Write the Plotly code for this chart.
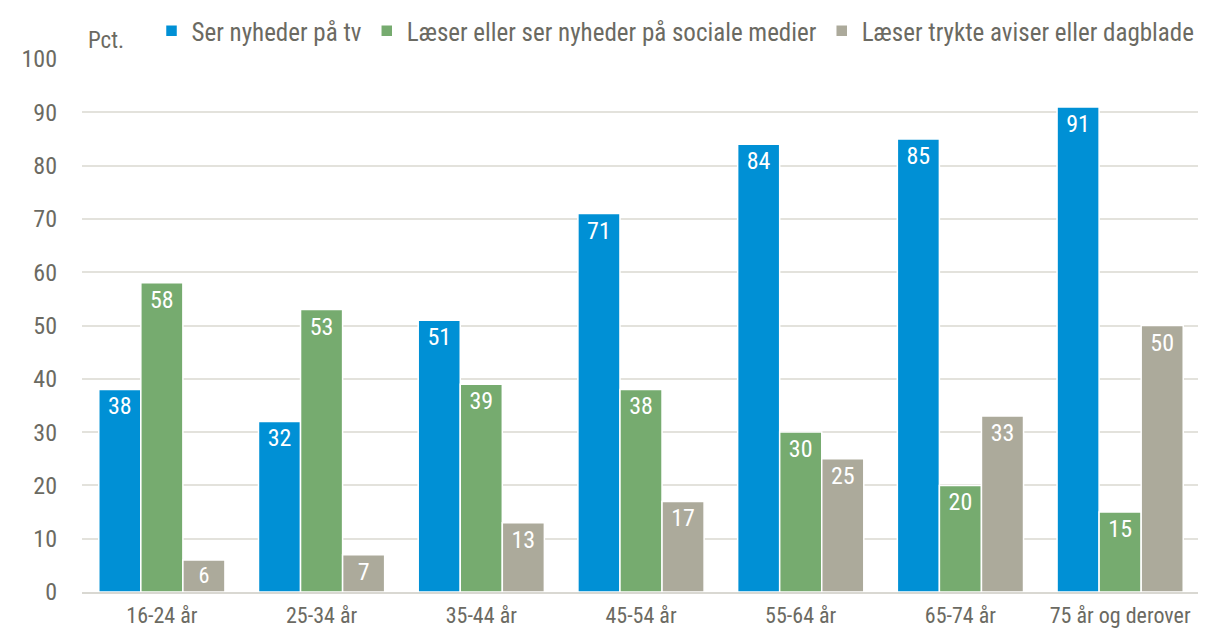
import plotly.graph_objects as go

categories = ["16-24 år", "25-34 år", "35-44 år", "45-54 år", "55-64 år", "65-74 år", "75 år og derover"]
tv = [38, 32, 51, 71, 84, 85, 91]
sociale = [58, 53, 39, 38, 30, 20, 15]
aviser = [6, 7, 13, 17, 25, 33, 50]
series_names = ["Ser nyheder på tv", "Læser eller ser nyheder på sociale medier", "Læser trykte aviser eller dagblade"]
colors = ["#0090D5", "#76AB6F", "#ACAA9B"]
y_ticks = [0, 10, 20, 30, 40, 50, 60, 70, 80, 90, 100]

FONT = "Roboto Condensed, Archivo Narrow, Arial Narrow, sans-serif"
TXT = "#6B6A62"

fig = go.Figure()
for name, vals, col in zip(series_names, [tv, sociale, aviser], colors):
    fig.add_trace(go.Bar(
        x=categories, y=vals, name=name,
        marker=dict(color=col, line=dict(color="white", width=1.5)),
        text=[str(v) for v in vals], textposition="inside", insidetextanchor="end",
        textangle=0, textfont=dict(color="white", size=24, family=FONT),
    ))

fig.update_layout(
    width=1206, height=640,
    barmode="group", bargap=0.21, bargroupgap=0.0,
    plot_bgcolor="white", paper_bgcolor="white",
    margin=dict(l=74, r=14, t=51, b=56),
    font=dict(family=FONT, color=TXT, size=22),
    legend=dict(orientation="h", x=0.119, xanchor="left", y=1.0, yanchor="top",
                yref="container", xref="container",
                font=dict(size=25, color=TXT, family=FONT),
                itemwidth=30, traceorder="normal", bgcolor="rgba(0,0,0,0)"),
    xaxis=dict(showgrid=False, showline=True, linecolor="#D9D8D2", linewidth=2,
               ticks="", automargin=False, ticklabelstandoff=3,
               tickfont=dict(size=22, color=TXT, family=FONT)),
    yaxis=dict(range=[0, 100], tickvals=y_ticks, showgrid=True, gridcolor="#E3E2DC", gridwidth=1.5,
               zeroline=False, ticks="", ticklabelstandoff=24, automargin=False,
               tickfont=dict(size=24, color=TXT, family=FONT)),
    annotations=[dict(text="Pct.", xref="paper", yref="paper", x=0.004, y=1.005, xanchor="left", yanchor="bottom",
                      showarrow=False, font=dict(size=23, color=TXT, family=FONT))],
)

fig.write_html("out.html")
